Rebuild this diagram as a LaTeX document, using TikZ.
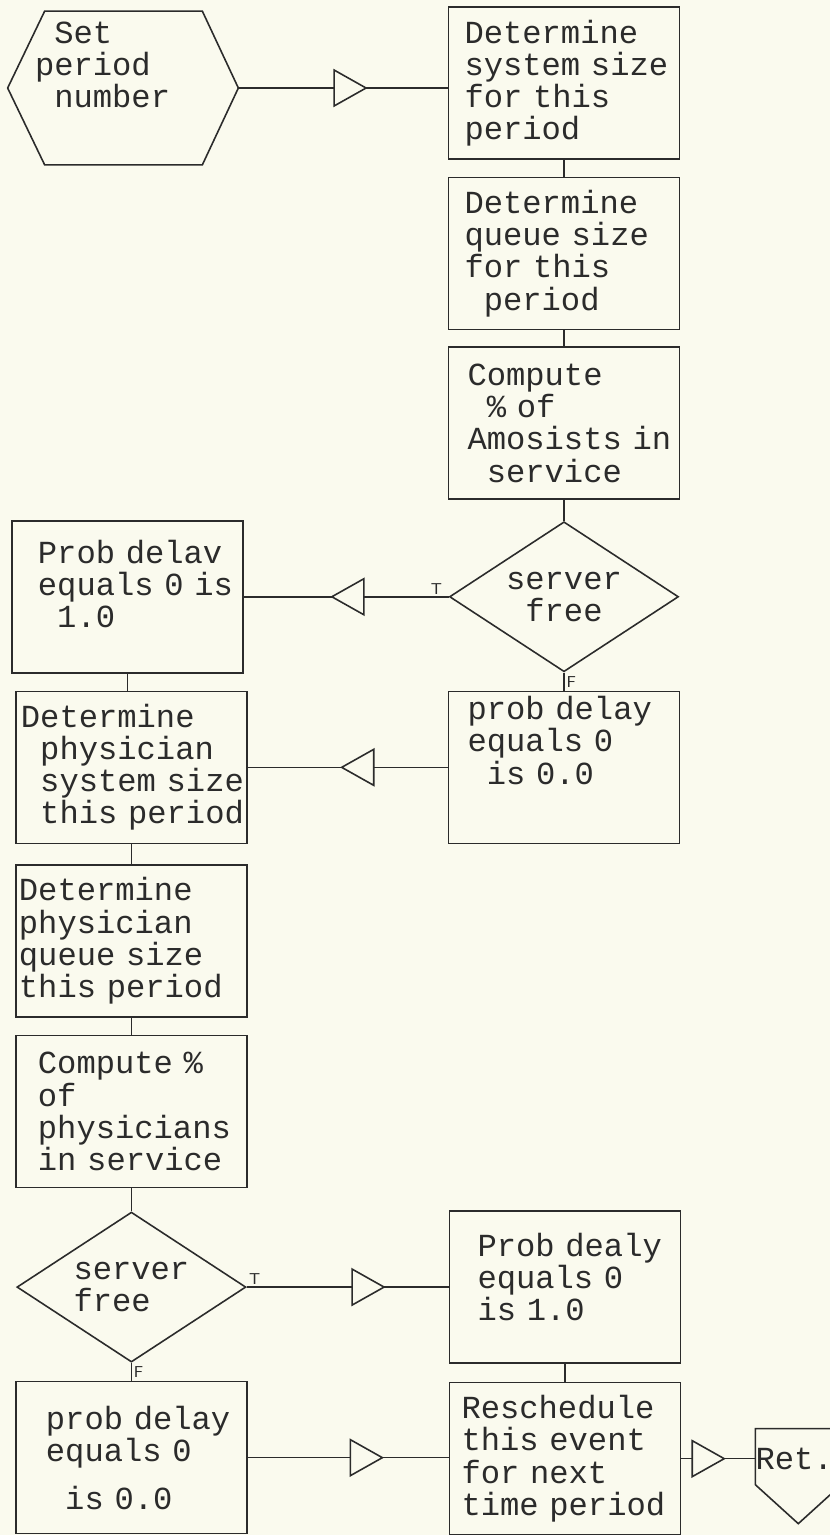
\documentclass[tikz,border=0pt]{standalone}
\usepackage{fontspec}
\newfontfamily\typer[WordSpace={1,0,0},HyphenChar=None]{Liberation Mono}
\usepackage{tikz}
\usetikzlibrary{positioning,shapes.geometric,decorations.markings}
\definecolor{paper}{HTML}{FAFAEE}
\definecolor{ink}{HTML}{2B2B2B}
\newcommand{\tsp}{\hphantom{x}}
\newcommand{\tfont}{\typer\fontsize{18.3pt}{18.3pt}\selectfont}

\begin{document}
\begin{tikzpicture}[
  blk/.style={draw=ink,line width=0.9pt,minimum width=4.62cm,minimum height=3.04cm,
    inner sep=0pt,align=left,font=\tfont,text=ink},
  dec/.style={draw=ink,line width=0.9pt,diamond,aspect=1.53,minimum width=4.58cm,
    minimum height=3cm,inner sep=0pt,font=\tfont,text=ink},
  lbl/.style={font=\sffamily\small,text=ink,inner sep=1pt},
  ln/.style={draw=ink,line width=0.9pt},
  tri/.style={postaction={decorate,decoration={markings,
    mark=at position #1 with {\draw[ink,line width=0.9pt,fill=paper]
      (0,0) -- (-0.64,0.36) -- (-0.64,-0.36) -- cycle;}}}}]
  \useasboundingbox (0,0) rectangle (16.6,-30.7);
  \fill[paper] (0,0) rectangle (16.6,-30.7);

  % start: hexagon round a plain node
  \node[draw=none,font=\tfont,text=ink,minimum width=4.6cm,minimum height=3.06cm,
    inner sep=0pt,text width=3.52cm,align=left] (setp) at (2.46,-1.76)
    {\tsp Set\\period\\\tsp number\\[0.3cm]\mbox{}};
  \draw[ln] (setp.west) -- ([xshift=0.74cm]setp.north west)
    -- ([xshift=-0.72cm]setp.north east) -- (setp.east)
    -- ([xshift=-0.72cm]setp.south east) -- ([xshift=0.74cm]setp.south west) -- cycle;

  % right column
  \node[blk,text width=3.98cm] (sysz) at (11.28,-1.66)
    {Determine\\system~size\\for~this\\period};
  \node[blk,text width=3.98cm,below=0.34cm of sysz] (qusz)
    {Determine\\queue~size\\for~this\\\tsp period};
  \node[blk,text width=3.86cm,below=0.32cm of qusz] (pcta)
    {Compute\\\tsp\%~of\\Amosists~in\\\tsp service};
  \node[dec,align=center,below=0.42cm of pcta] (srv1) {server\\free};
  \node[blk,text width=3.58cm,left=4.1cm of srv1] (pone)
    {Prob~delav\\equals~0~is\\\tsp 1.0\\[-0.12cm]\mbox{}};
  \node[blk,text width=3.86cm,below=0.36cm of srv1] (pzero)
    {prob~delay\\equals~0\\\tsp is~0.0\\[0.44cm]\mbox{}};

  % left column
  \node[blk,text width=4.42cm,left=4.0cm of pzero] (phsys)
    {Determine\\\tsp physician\\\tsp system~size\\\tsp this~period};
  \node[blk,text width=4.5cm,below=0.4cm of phsys] (phq)
    {Determine\\physician\\queue~size\\this~period};
  \node[blk,text width=3.74cm,below=0.34cm of phq] (pcth)
    {Compute~\%\\of\\physicians\\in~service};
  \node[dec,align=left,below=0.46cm of pcth] (srv2) {server\\free};
  \node[blk,text width=3.5cm,right=4.04cm of srv2] (ponb)
    {Prob~dealy\\equals~0\\is~1.0\\[-0.24cm]\mbox{}};
  \node[blk,text width=3.42cm,below=0.36cm of srv2] (pzerob)
    {prob~delay\\equals~0\\[0.32cm]\tsp is~0.0};
  \node[blk,text width=4.14cm,below=0.36cm of ponb] (resch)
    {Reschedule\\this~event\\for~next\\time~period};
  \node[font=\tfont,text=ink,inner sep=0pt,right=1.48cm of resch] (ret) {Ret.};
  \draw[ln] ([yshift=0.6cm]ret.west) -- ++(1.72,0) -- ++(0,-1.12)
    -- ++(-0.86,-0.78) -- ++(-0.86,0.78) -- cycle;

  % connectors
  \draw[ln,tri=0.61] (setp.east) -- (setp.east -| sysz.west);
  \draw[ln] (sysz.south) -- (qusz.north);
  \draw[ln] (qusz.south) -- (pcta.north);
  \draw[ln] (pcta.south) -- (srv1.north);
  \draw[ln,tri=0.57] (srv1.west) -- node[lbl,pos=0.06,above]{T} (pone.east);
  \draw[ln] (srv1.south) -- node[lbl,right]{F} (pzero.north);
  \draw[ln,tri=0.53] (pzero.west) -- (phsys.east);
  \draw[ln] (pone.south) -- (pone.south |- phsys.north);
  \draw[ln] (phsys.south) -- (phq.north);
  \draw[ln] (phq.south) -- (pcth.north);
  \draw[ln] (pcth.south) -- (srv2.north);
  \draw[ln,tri=0.68] (srv2.east) -- node[lbl,pos=0.04,above]{T} (ponb.west);
  \draw[ln] (srv2.south) -- node[lbl,right]{F} (pzerob.north);
  \draw[ln,tri=0.67] (pzerob.east) -- (pzerob.east -| resch.west);
  \draw[ln] (ponb.south) -- (resch.north);
  \draw[ln,tri=0.58] (resch.east) -- (ret.west);
\end{tikzpicture}
\end{document}
